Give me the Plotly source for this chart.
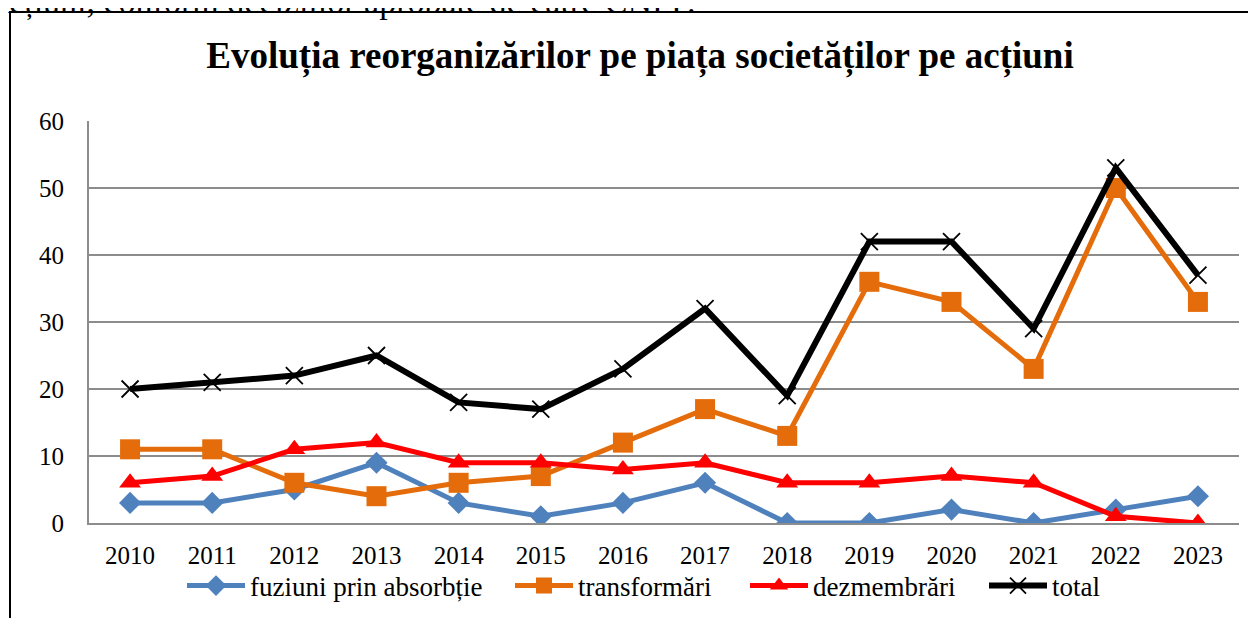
import plotly.graph_objects as go

years = ["2010", "2011", "2012", "2013", "2014", "2015", "2016", "2017", "2018", "2019", "2020", "2021", "2022", "2023"]
fuziuni = [3, 3, 5, 9, 3, 1, 3, 6, 0, 0, 2, 0, 2, 4]
transformari = [11, 11, 6, 4, 6, 7, 12, 17, 13, 36, 33, 23, 50, 33]
dezmembrari = [6, 7, 11, 12, 9, 9, 8, 9, 6, 6, 7, 6, 1, 0]
total = [20, 21, 22, 25, 18, 17, 23, 32, 19, 42, 42, 29, 53, 37]

names = ["fuziuni prin absorbție", "transformări", "dezmembrări", "total"]
title_text = "Evoluția reorganizărilor pe piața societăților pe acțiuni"
top_text = "acțiuni, conform deciziilor aprobate de către CNPF."

FONT = "Liberation Serif"
OFF = 8  # page margin of the html body
W, H = 1256 - OFF, 618 - OFF
# plot area in figure px
L, R, T, B = 89 - OFF, 1239 - OFF, 121 - OFF, 523 - OFF


def px_x(px):
    return (px - L) / (R - L)


def px_y(py):
    return (B - py) / (B - T)


styles = [
    dict(line=dict(color="#4F81BD", width=5), marker=dict(symbol="diamond", size=17, color="#4F81BD")),
    dict(line=dict(color="#E46C0A", width=5), marker=dict(symbol="square", size=20, color="#E46C0A")),
    dict(line=dict(color="#FF0000", width=5), marker=dict(symbol="triangle-up", size=19, color="#FF0000")),
    dict(line=dict(color="#000000", width=6),
         marker=dict(symbol="x-thin", size=17, color="#000000", line=dict(color="#000000", width=1.8))),
]
series = [fuziuni, transformari, dezmembrari, total]
legend_ids = ["legend", "legend2", "legend3", "legend4"]
legend_text_x = [252, 580, 815, 1054]  # page px where each legend text starts
ITEMW = 58

fig = go.Figure()
for name, vals, st, lg in zip(names, series, styles, legend_ids):
    fig.add_trace(go.Scatter(x=years, y=vals, name=name, mode="lines+markers", legend=lg, **st))

legend_common = dict(orientation="h", xref="container", yref="container",
                     yanchor="middle", y=1 - (586 - OFF) / H,
                     xanchor="left", bgcolor="rgba(0,0,0,0)", itemwidth=ITEMW,
                     font=dict(family=FONT, size=27, color="black"))
legends = {}
for lg, tx in zip(legend_ids, legend_text_x):
    legends[lg] = dict(x=(tx - OFF - ITEMW - 12) / W, **legend_common)

fig.update_layout(
    width=W, height=H,
    margin=dict(l=L, r=W - R, t=T, b=H - B, pad=0),
    paper_bgcolor="white", plot_bgcolor="white",
    font=dict(family=FONT, size=25, color="black"),
    title=dict(text="<b>" + title_text + "</b>", x=(640 - OFF) / W, xanchor="center",
               y=1 - (55 - OFF) / H, yanchor="middle",
               font=dict(family=FONT, size=37, color="black")),
    xaxis=dict(type="category", range=[-0.5, 13.5], showgrid=False,
               showline=True, linecolor="#8C8C8C", linewidth=2, automargin=False,
               ticks="", tickfont=dict(family=FONT, size=25, color="black"), ticklabelstandoff=9),
    yaxis=dict(range=[0, 60], dtick=10, showgrid=True, gridcolor="#8C8C8C", gridwidth=2,
               showline=True, linecolor="#8C8C8C", linewidth=2, zeroline=False, automargin=False,
               ticks="", tickfont=dict(family=FONT, size=25, color="black"), ticklabelstandoff=18),
    showlegend=True,
    **legends,
)

# outer chart border (cut by the page on the right and bottom)
fig.add_shape(type="rect", xref="paper", yref="paper",
              x0=px_x(10 - OFF), x1=px_x(1270), y0=px_y(640), y1=px_y(12 - OFF),
              line=dict(color="black", width=2), fillcolor="rgba(0,0,0,0)", layer="above")

# text from the document above the chart, cut at the top of the page
fig.add_annotation(text=top_text, xref="paper", yref="paper", x=px_x(-8 - OFF), y=px_y(15),
                   xanchor="left", yanchor="bottom", showarrow=False,
                   font=dict(family=FONT, size=34, color="black"))

fig.write_html("out.html")
